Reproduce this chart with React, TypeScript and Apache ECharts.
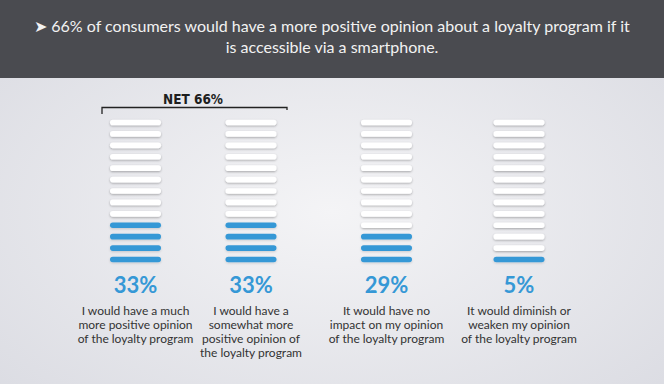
import React, { useEffect, useRef } from "react";
import * as echarts from "echarts";

// ---- Data ----
const categories = ["Much more positive", "Somewhat more positive", "No impact", "Diminish"];
const percentValues = [33, 33, 29, 5];
const filledBars = [4, 4, 3, 1];
const totalBars = 13;
const descriptions = [
  ["I would have a much", "more positive opinion", "of the loyalty program"],
  ["I would have a", "somewhat more", "positive opinion of", "the loyalty program"],
  ["It would have no", "impact on my opinion", "of the loyalty program"],
  ["It would diminish or", "weaken my opinion", "of the loyalty program"],
];
const headlineLines = [
  "➤ 66% of consumers would have a more positive opinion about a loyalty program if it",
  "is accessible via a smartphone.",
];
const netLabel = "NET 66%";

// ---- Layout / style ----
const W = 664;
const H = 384;
const columnCenters = [135.5, 251, 386.5, 519];
const colWidth = 51;
const gridTop = 116.8;
const gridHeight = 148.4;
const BLUE = "#3598d6";
const FONT = "Lato, 'Open Sans', sans-serif";

export default function App() {
  const ref = useRef<HTMLDivElement>(null);

  useEffect(() => {
    if (!ref.current) return;
    const chart = echarts.init(ref.current, undefined, { renderer: "svg" });

    const grids = columnCenters.map((c) => ({
      left: c - colWidth / 2,
      width: colWidth,
      top: gridTop,
      height: gridHeight,
    }));

    const xAxes = categories.map((cat, i) => ({
      type: "category",
      gridIndex: i,
      data: [cat],
      axisLine: { show: false },
      axisTick: { show: false },
      splitLine: { show: false },
      axisLabel: {
        interval: 0,
        margin: 1,
        formatter: () =>
          [`{pct|${percentValues[i]}%}`, ...descriptions[i].map((d) => `{desc|${d}}`)].join("\n"),
        rich: {
          pct: {
            fontFamily: FONT,
            fontWeight: "bold",
            fontSize: 22,
            color: BLUE,
            lineHeight: 37,
            align: "center",
          },
          desc: {
            fontFamily: FONT,
            fontSize: 12,
            color: "#333333",
            lineHeight: 14,
            align: "center",
          },
        },
      },
    }));

    const yAxes = categories.map((_, i) => ({
      type: "value",
      gridIndex: i,
      min: 0,
      max: totalBars,
      show: false,
    }));

    const series = categories.map((cat, i) => ({
      type: "custom",
      xAxisIndex: i,
      yAxisIndex: i,
      data: [[cat, filledBars[i]]],
      renderItem: (_params: any, api: any) => {
        const filled = api.value(1);
        const w = api.size([1, 0])[0];
        const children: any[] = [];
        const bh = 5.6;
        for (let k = 0; k < totalBars; k++) {
          const c = api.coord([api.value(0), k + 0.5]);
          const isFilled = k < filled;
          children.push({
            type: "rect",
            shape: { x: c[0] - w / 2, y: c[1] - bh / 2, width: w, height: bh, r: bh / 2 },
            style: {
              fill: isFilled ? BLUE : "#ffffff",
              shadowBlur: 2,
              shadowOffsetY: 1,
              shadowColor: isFilled ? "rgba(0,0,0,0.15)" : "rgba(0,0,0,0.3)",
            },
          });
        }
        return { type: "group", children };
      },
    }));

    chart.setOption({
      animation: false,
      grid: grids,
      xAxis: xAxes,
      yAxis: yAxes,
      series,
      graphic: [
        {
          type: "rect",
          z: -10,
          silent: true,
          shape: { x: 0, y: 0, width: W, height: H },
          style: {
            fill: {
              type: "radial",
              x: 0.5,
              y: 0.55,
              r: 0.75,
              colorStops: [
                { offset: 0, color: "#f4f4f6" },
                { offset: 1, color: "#d9dae1" },
              ],
            },
          },
        },
        {
          type: "rect",
          z: -9,
          silent: true,
          shape: { x: 0, y: 0, width: W, height: 78 },
          style: { fill: "#4a4b50" },
        },
        {
          type: "text",
          z: 10,
          x: W / 2,
          y: 15,
          style: {
            text: headlineLines.join("\n"),
            fill: "#f2f2f2",
            font: `16px ${FONT}`,
            lineHeight: 21,
            align: "center",
            verticalAlign: "top",
          },
        },
        {
          type: "text",
          z: 10,
          x: 193,
          y: 99,
          style: {
            text: netLabel,
            fill: "#1e1e1e",
            font: "bold 13.5px 'DejaVu Sans Condensed', 'DejaVu Sans', sans-serif",
            align: "center",
            verticalAlign: "middle",
          },
        },
        {
          type: "polyline",
          z: 10,
          shape: { points: [[102, 114], [102, 107.5], [287, 107.5], [287, 110]] },
          style: { stroke: "#222222", lineWidth: 1.3, fill: null },
        },
      ],
    });

    return () => chart.dispose();
  }, []);

  return (
    <div
      ref={ref}
      style={{ position: "absolute", left: 0, top: 0, width: W, height: H }}
    />
  );
}
